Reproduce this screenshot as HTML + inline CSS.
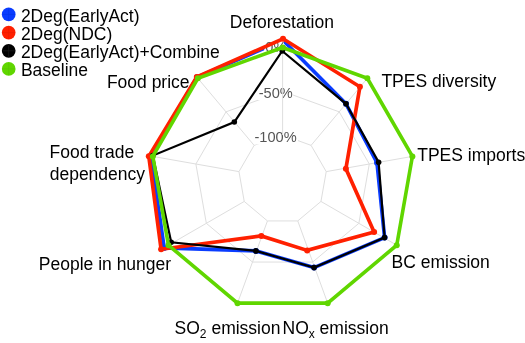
<!DOCTYPE html><html><head><meta charset="utf-8"><style>html,body{margin:0;padding:0;background:#fff;}svg{display:block;filter:blur(0.35px);}text{font-family:"Liberation Sans",sans-serif;}</style></head><body>
<svg width="525" height="343" viewBox="0 0 525 343">
<rect width="525" height="343" fill="#fff"/>
<polygon points="282.60,135.00 311.08,145.36 326.23,171.61 320.96,201.45 297.75,220.93 267.45,220.93 244.24,201.45 238.97,171.61 254.12,145.36" fill="none" stroke="#dedede" stroke-width="1.0"/>
<polygon points="282.60,91.25 339.20,111.85 369.31,164.01 358.85,223.33 312.71,262.04 252.49,262.04 206.35,223.33 195.89,164.01 226.00,111.85" fill="none" stroke="#dedede" stroke-width="1.0"/>
<polygon points="282.60,47.50 367.32,78.34 412.40,156.41 396.74,245.20 327.68,303.15 237.52,303.15 168.46,245.20 152.80,156.41 197.88,78.34" fill="none" stroke="#dedede" stroke-width="1.0"/>
<rect x="257.7" y="86.6" width="35.5" height="13.5" fill="#fff"/>
<text x="258.7" y="98.1" font-size="14.6" fill="#555555">-50%</text>
<rect x="253.45" y="130.9" width="44.5" height="13.5" fill="#fff"/>
<text x="254.45" y="142.4" font-size="14.6" fill="#555555">-100%</text>
<line x1="282.60" y1="135.00" x2="282.60" y2="47.50" stroke="#dedede" stroke-width="1.0"/>
<line x1="311.08" y1="145.36" x2="367.32" y2="78.34" stroke="#dedede" stroke-width="1.0"/>
<line x1="326.23" y1="171.61" x2="412.40" y2="156.41" stroke="#dedede" stroke-width="1.0"/>
<line x1="320.96" y1="201.45" x2="396.74" y2="245.20" stroke="#dedede" stroke-width="1.0"/>
<line x1="297.75" y1="220.93" x2="327.68" y2="303.15" stroke="#dedede" stroke-width="1.0"/>
<line x1="267.45" y1="220.93" x2="237.52" y2="303.15" stroke="#dedede" stroke-width="1.0"/>
<line x1="244.24" y1="201.45" x2="168.46" y2="245.20" stroke="#dedede" stroke-width="1.0"/>
<line x1="238.97" y1="171.61" x2="152.80" y2="156.41" stroke="#dedede" stroke-width="1.0"/>
<line x1="254.12" y1="145.36" x2="197.88" y2="78.34" stroke="#dedede" stroke-width="1.0"/>
<polygon points="283.00,40.20 346.00,103.80 377.00,162.70 384.60,237.60 314.05,267.60 255.90,250.90 164.20,247.90 151.00,156.20 197.00,77.20" fill="none" stroke="#0a3cff" stroke-width="3.7" stroke-linejoin="miter"/>
<circle cx="283.00" cy="40.20" r="3.0" fill="#0a3cff"/>
<circle cx="346.00" cy="103.80" r="3.0" fill="#0a3cff"/>
<circle cx="377.00" cy="162.70" r="3.0" fill="#0a3cff"/>
<circle cx="384.60" cy="237.60" r="3.0" fill="#0a3cff"/>
<circle cx="314.05" cy="267.60" r="3.0" fill="#0a3cff"/>
<circle cx="255.90" cy="250.90" r="3.0" fill="#0a3cff"/>
<circle cx="164.20" cy="247.90" r="3.0" fill="#0a3cff"/>
<circle cx="151.00" cy="156.20" r="3.0" fill="#0a3cff"/>
<circle cx="197.00" cy="77.20" r="3.0" fill="#0a3cff"/>
<rect x="264.3" y="40.3" width="19.5" height="13.5" fill="#fff"/>
<text x="265.3" y="51.8" font-size="14.6" fill="#555555">0%</text>
<polygon points="283.00,38.75 359.90,86.80 345.90,168.80 374.10,232.00 307.20,250.40 261.30,235.90 161.10,249.25 148.80,156.30 196.80,76.90" fill="none" stroke="#ff2000" stroke-width="3.7" stroke-linejoin="miter"/>
<circle cx="283.00" cy="38.75" r="3.0" fill="#ff2000"/>
<circle cx="359.90" cy="86.80" r="3.0" fill="#ff2000"/>
<circle cx="345.90" cy="168.80" r="3.0" fill="#ff2000"/>
<circle cx="374.10" cy="232.00" r="3.0" fill="#ff2000"/>
<circle cx="307.20" cy="250.40" r="3.0" fill="#ff2000"/>
<circle cx="261.30" cy="235.90" r="3.0" fill="#ff2000"/>
<circle cx="161.10" cy="249.25" r="3.0" fill="#ff2000"/>
<circle cx="148.80" cy="156.30" r="3.0" fill="#ff2000"/>
<circle cx="196.80" cy="76.90" r="3.0" fill="#ff2000"/>
<polygon points="282.20,51.00 346.00,103.80 378.60,162.20 384.60,237.60 314.05,267.60 255.90,250.90 171.20,242.25 152.80,155.60 234.30,122.00" fill="none" stroke="#000000" stroke-width="2.2" stroke-linejoin="miter"/>
<circle cx="282.20" cy="51.00" r="2.8" fill="#000000"/>
<circle cx="346.00" cy="103.80" r="2.8" fill="#000000"/>
<circle cx="378.60" cy="162.20" r="2.8" fill="#000000"/>
<circle cx="384.60" cy="237.60" r="2.8" fill="#000000"/>
<circle cx="314.05" cy="267.60" r="2.8" fill="#000000"/>
<circle cx="255.90" cy="250.90" r="2.8" fill="#000000"/>
<circle cx="171.20" cy="242.25" r="2.8" fill="#000000"/>
<circle cx="152.80" cy="155.60" r="2.8" fill="#000000"/>
<circle cx="234.30" cy="122.00" r="2.8" fill="#000000"/>
<polygon points="282.60,47.50 367.32,78.34 412.40,156.41 396.74,245.20 327.68,303.15 237.52,303.15 168.46,245.20 152.80,156.41 197.88,78.34" fill="none" stroke="#60d600" stroke-width="3.6" stroke-linejoin="miter"/>
<circle cx="282.60" cy="47.50" r="3.0" fill="#60d600"/>
<circle cx="367.32" cy="78.34" r="3.0" fill="#60d600"/>
<circle cx="412.40" cy="156.41" r="3.0" fill="#60d600"/>
<circle cx="396.74" cy="245.20" r="3.0" fill="#60d600"/>
<circle cx="327.68" cy="303.15" r="3.0" fill="#60d600"/>
<circle cx="237.52" cy="303.15" r="3.0" fill="#60d600"/>
<circle cx="168.46" cy="245.20" r="3.0" fill="#60d600"/>
<circle cx="152.80" cy="156.41" r="3.0" fill="#60d600"/>
<circle cx="197.88" cy="78.34" r="3.0" fill="#60d600"/>
<text x="229.8" y="28.3" font-size="17.5" fill="#000">Deforestation</text>
<text x="381.4" y="87.3" font-size="17.5" fill="#000">TPES diversity</text>
<text x="417.2" y="161.3" font-size="17.5" fill="#000">TPES imports</text>
<text x="391.6" y="267.9" font-size="17.5" fill="#000">BC emission</text>
<text x="38.8" y="269.6" font-size="17.5" fill="#000">People in hunger</text>
<text x="49.5" y="157.8" font-size="17.5" fill="#000">Food trade</text>
<text x="49.7" y="179.6" font-size="17.5" fill="#000">dependency</text>
<text x="106.9" y="87.5" font-size="17.5" fill="#000">Food price</text>
<text x="174.55" y="333.9" font-size="17.5" fill="#000">SO<tspan font-size="12" dy="3.6">2</tspan><tspan dy="-3.6"> emission</tspan></text>
<text x="282.5" y="333.9" font-size="17.5" fill="#000">NO<tspan font-size="12" dy="3.6">x</tspan><tspan dy="-3.6"> emission</tspan></text>
<circle cx="8.7" cy="14.45" r="6.85" fill="#0a3cff"/>
<path d="M2.6 14.45H14.8M8.7 8.35V20.55" stroke="#0030d8" stroke-width="0.8" opacity="0.5"/>
<text x="20.9" y="21.85" font-size="17.5" fill="#000">2Deg(EarlyAct)</text>
<circle cx="8.7" cy="32.60" r="6.85" fill="#ff2000"/>
<path d="M2.6 32.60H14.8M8.7 26.50V38.70" stroke="#d81a00" stroke-width="0.8" opacity="0.5"/>
<text x="20.9" y="40.0" font-size="17.5" fill="#000">2Deg(NDC)</text>
<circle cx="8.7" cy="50.80" r="6.85" fill="#000000"/>
<path d="M2.6 50.80H14.8M8.7 44.70V56.90" stroke="#333" stroke-width="0.8" opacity="0.5"/>
<text x="20.9" y="58.3" font-size="17.5" fill="#000">2Deg(EarlyAct)+Combine</text>
<circle cx="8.7" cy="68.90" r="6.85" fill="#60d600"/>
<path d="M2.6 68.90H14.8M8.7 62.80V75.00" stroke="#50b800" stroke-width="0.8" opacity="0.5"/>
<text x="20.9" y="76.3" font-size="17.5" fill="#000">Baseline</text>
</svg></body></html>
